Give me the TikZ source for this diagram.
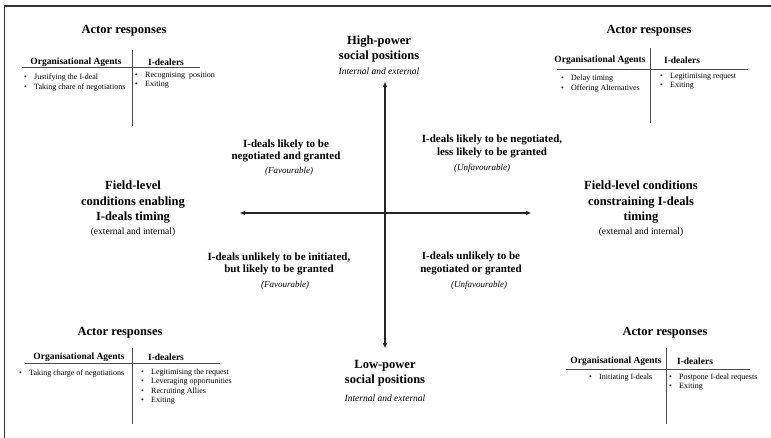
\documentclass[tikz,border=0pt]{standalone}
\usepackage{fontspec}
\setmainfont{Liberation Serif}
\usetikzlibrary{arrows.meta}
\begin{document}
\begin{tikzpicture}[x=1pt,y=-1pt,
  title/.style={font=\fontsize{12.5}{15}\selectfont\bfseries, inner sep=0pt},
  head/.style={font=\fontsize{9.5}{11}\selectfont\bfseries, inner sep=0pt},
  item/.style={font=\fontsize{8}{9.3}\selectfont, inner sep=0pt, anchor=west, align=left},
  rule/.style={draw=black!70, line width=0.8pt},
  axis/.style={draw=black!85, line width=1.2pt, {Triangle[length=5pt,width=4pt]}-{Triangle[length=5pt,width=4pt]}},
  quad/.style={font=\fontsize{11}{12.5}\selectfont\bfseries, inner sep=0pt, align=center},
  note/.style={font=\fontsize{9}{11}\selectfont\itshape, inner sep=0pt},
  polenote/.style={font=\fontsize{9.5}{11}\selectfont\itshape, inner sep=0pt},
  side/.style={font=\fontsize{12.5}{15.5}\selectfont\bfseries, inner sep=0pt, align=center},
  sidenote/.style={font=\fontsize{9.5}{11}\selectfont, inner sep=0pt},
  pole/.style={font=\fontsize{12.5}{15}\selectfont\bfseries, inner sep=0pt, align=center},
]
\newcommand{\bul}{\makebox[10pt][l]{•}}
\useasboundingbox (0,0) rectangle (771,438);
\fill[white] (0,0) rectangle (771,438);
% frame
\draw[line width=1.5pt, black!80] (4.5,438) -- (4.5,6) -- (771,6);

% ---------- top-left block
\node[title] (tlT) at (124,31) {Actor responses};
\node[head] (tlA) at (76,62) {Organisational Agents};
\node[head] (tlD) at (166,62) {I-dealers};
\draw[rule] (22,67) coordinate (tlh1) -- (200,67) coordinate (tlh2);
\draw[rule] (132,50) coordinate (tlv1) -- (132,126) coordinate (tlv2);
\node[item] (tlL) at (24,82.5) {\bul Justifying the I-deal\\ \bul Taking chare of negotiations};
\node[item] (tlR) at (135,80.5) {\bul Recognising\ \ position\\ \bul Exiting};

% ---------- top-right block
\node[title] (trT) at (649,31) {Actor responses};
\node[head] (trA) at (600,60) {Organisational Agents};
\node[head] (trD) at (682,60) {I-dealers};
\draw[rule] (557,69) coordinate (trh1) -- (748,69) coordinate (trh2);
\draw[rule] (650,48) coordinate (trv1) -- (650,123) coordinate (trv2);
\node[item] (trL) at (561,83.5) {\bul Delay timing\\ \bul Offering Alternatives};
\node[item] (trR) at (660,81.5) {\bul Legitimising request\\ \bul Exiting};

% ---------- bottom-left block
\node[title] (blT) at (120,333) {Actor responses};
\node[head] (blA) at (79,357) {Organisational Agents};
\node[head] (blD) at (166,357) {I-dealers};
\draw[rule] (25,363) coordinate (blh1) -- (220,363) coordinate (blh2);
\draw[rule] (132,348) coordinate (blv1) -- (132,424) coordinate (blv2);
\node[item] (blL) at (19,374) {\bul Taking charge of negotiations};
\node[item] (blR) at (141,386.5) {\bul Legitimising the request\\ \bul Leveraging opportunities\\ \bul Recruiting Allies\\ \bul Exiting};

% ---------- bottom-right block
\node[title] (brT) at (665,333) {Actor responses};
\node[head] (brA) at (616,361) {Organisational Agents};
\node[head] (brD) at (695,361) {I-dealers};
\draw[rule] (566,369) coordinate (brh1) -- (750,369) coordinate (brh2);
\draw[rule] (666,348) coordinate (brv1) -- (666,424) coordinate (brv2);
\node[item] (brL) at (589,378) {\bul Initiating I-deals};
\node[item] (brR) at (669,382) {\bul Postpone I-deal requests\\ \bul Exiting};

% ---------- axes
\coordinate (axT) at (385,82);
\coordinate (axB) at (385,348);
\coordinate (axL) at (240,213);
\coordinate (axR) at (531,213);
\draw[axis] (axB) -- (axT);
\draw[axis] (axL) -- (axR);

% ---------- poles
\node[pole] (hp) at (379,48.5) {High-power\\social positions};
\node[polenote] (hpn) at (379,71) {Internal and external};
\node[pole] (lp) at (385,373) {Low-power\\social positions};
\node[polenote] (lpn) at (385,398) {Internal and external};

% ---------- sides
\node[side] (sl) at (133,202.5) {Field-level\\conditions enabling\\I-deals timing};
\node[sidenote] (sln) at (133,232) {(external and internal)};
\node[side] (sr) at (641,202.5) {Field-level conditions\\constraining I-deals\\timing};
\node[sidenote] (srn) at (641,232) {(external and internal)};

% ---------- quadrants
\node[quad] (qul) at (286,151) {I-deals likely to be\\negotiated and granted};
\node[note] (quln) at (289,171) {(Favourable)};
\node[quad] (qur) at (492,146.5) {I-deals likely to be negotiated,\\less likely to be granted};
\node[note] (qurn) at (482,168) {(Unfavourable)};
\node[quad] (qll) at (279,264) {I-deals unlikely to be initiated,\\but likely to be granted};
\node[note] (qlln) at (285,285) {(Favourable)};
\node[quad] (qlr) at (471,263.5) {I-deals unlikely to be\\negotiated or granted};
\node[note] (qlrn) at (479,285) {(Unfavourable)};
\end{tikzpicture}
\end{document}
